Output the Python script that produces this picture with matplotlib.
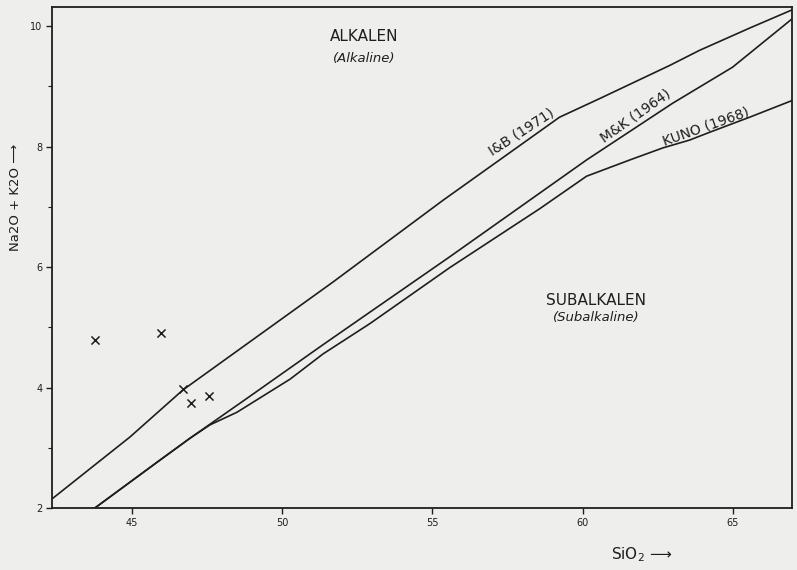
import matplotlib
matplotlib.use("Agg")
import matplotlib.pyplot as plt

# ─── Data ─────────────────────────────────────────────────────────────────────

ib_sio2 = [42.33, 44.93, 46.69, 51.68, 55.35, 59.23, 60.57, 62.90, 63.89, 65.56, 66.96]
ib_alk = [2.15, 3.18, 3.96, 5.75, 7.11, 8.49, 8.80, 9.35, 9.60, 9.97, 10.27]

mk_sio2 = [43.76, 45.83, 46.93, 49.02, 51.35, 52.91, 55.57, 60.13, 62.99, 64.99, 66.99]
mk_alk = [2.00, 2.76, 3.16, 3.89, 4.71, 5.25, 6.17, 7.78, 8.72, 9.32, 10.13]

kuno_sio2 = [43.76, 45.83, 46.93, 47.59, 48.49, 50.26, 51.36, 52.91, 55.57, 58.57,
             60.13, 61.57, 62.67, 63.56, 64.23, 65.56, 66.99]
kuno_alk = [2.00, 2.76, 3.16, 3.38, 3.59, 4.14, 4.56, 5.06, 5.99, 6.97,
            7.51, 7.78, 7.98, 8.11, 8.24, 8.49, 8.77]

sample_sio2 = [43.76, 45.96, 46.69, 46.96, 47.56]
sample_alk = [4.79, 4.90, 3.98, 3.74, 3.86]

x_ticks = [45, 50, 55, 60, 65]
y_ticks = [2, 4, 6, 8, 10]
y_minor = [3, 5, 7, 9]

# ─── Chart ────────────────────────────────────────────────────────────────────

paper = "#eeeeec"
ink = "#1e1e1e"

fig = plt.figure(figsize=(7.97, 5.70), dpi=100, facecolor=paper)
ax = fig.add_axes([0.0652, 0.1088, 0.9285, 0.8789], facecolor=paper)

ax.plot(ib_sio2, ib_alk, color=ink, linewidth=1.2)
ax.plot(mk_sio2, mk_alk, color=ink, linewidth=1.2)
ax.plot(kuno_sio2, kuno_alk, color=ink, linewidth=1.2)
ax.scatter(sample_sio2, sample_alk, marker="x", s=34, color=ink, linewidths=1.1, zorder=3)

ax.set_xlim(42.33, 66.97)
ax.set_ylim(2, 10.32)
ax.set_xticks(x_ticks)
ax.set_yticks(y_ticks)
ax.set_yticks(y_minor, minor=True)
ax.tick_params(axis="both", which="major", direction="out", length=4, width=1,
               labelsize=7, colors=ink, pad=3)
ax.tick_params(axis="y", which="minor", direction="out", length=3, width=0.8, colors=ink)
for s in ax.spines.values():
    s.set_linewidth(1.3)
    s.set_color(ink)

# region labels
ax.text(0.422, 0.942, "ALKALEN", transform=ax.transAxes, ha="center", va="center",
        fontsize=11, color=ink)
ax.text(0.422, 0.898, "(Alkaline)", transform=ax.transAxes, ha="center", va="center",
        fontsize=9.5, style="italic", color=ink)
ax.text(0.735, 0.415, "SUBALKALEN", transform=ax.transAxes, ha="center", va="center",
        fontsize=11, color=ink)
ax.text(0.735, 0.380, "(Subalkaline)", transform=ax.transAxes, ha="center", va="center",
        fontsize=9.5, style="italic", color=ink)

# curve labels
ax.text(57.97, 8.24, "I&B (1971)", rotation=33, ha="center", va="center",
        fontsize=10, color=ink, rotation_mode="anchor")
ax.text(61.76, 8.52, "M&K (1964)", rotation=35, ha="center", va="center",
        fontsize=10, color=ink, rotation_mode="anchor")
ax.text(64.09, 8.34, "KUNO (1968)", rotation=19.5, ha="center", va="center",
        fontsize=10, color=ink, rotation_mode="anchor")

# axis titles
ax.set_ylabel("Na2O + K2O \u27f6", fontsize=9.5, color=ink)
ax.yaxis.set_label_coords(-0.040, 0.62)
ax.set_xlabel("SiO$_2$ \u27f6", fontsize=11, color=ink)
ax.xaxis.set_label_coords(0.797, -0.075)

plt.savefig("out.png", dpi=100, facecolor=paper)
plt.close()
